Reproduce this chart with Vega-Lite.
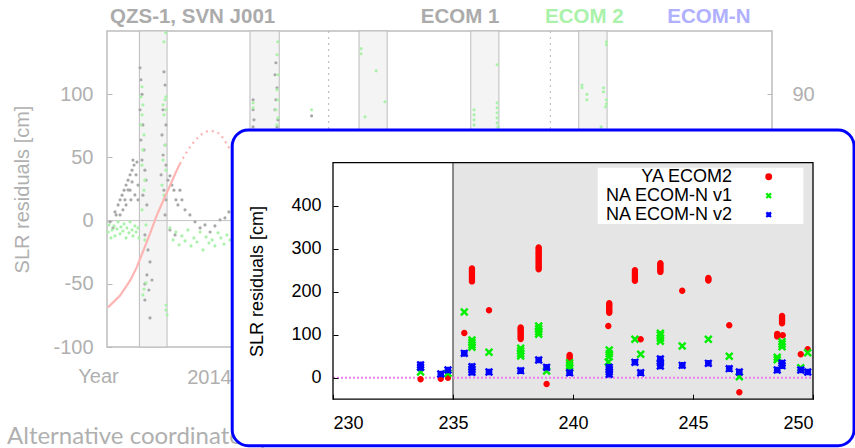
{
"$schema": "https://vega.github.io/schema/vega-lite/v6.json",
"width": 665, "height": 316,
"autosize": {"type": "none"},
"padding": {"left": 107, "top": 31, "right": 83, "bottom": 101},
"background": "white",
"config": {
  "view": {"stroke": "#bdbdbd", "strokeWidth": 1.5},
  "font": "Liberation Sans",
  "axis": {"grid": false, "domain": false, "labelFont": "Liberation Sans", "titleFont": "Liberation Sans", "titleFontWeight": "normal"}
},
"layer": [
 {
  "data": {"values": [{"b0": 2014.146, "b1": 2014.271}, {"b0": 2014.645, "b1": 2014.777}, {"b0": 2015.137, "b1": 2015.264}, {"b0": 2015.641, "b1": 2015.768}, {"b0": 2016.128, "b1": 2016.256}]},
  "mark": {"type": "rect", "fill": "#f4f4f4", "stroke": "#bcbcbc", "strokeWidth": 1},
  "encoding": {
    "x": {"field": "b0", "type": "quantitative", "scale": {"domain": [2014, 2017], "nice": false, "zero": false}, "axis": null},
    "x2": {"field": "b1"},
    "y": {"datum": -100, "type": "quantitative", "scale": {"domain": [-100, 150], "nice": false, "zero": false}, "axis": null},
    "y2": {"datum": 150}
  }
 },
 {
  "data": {"values": [{"yr": 2015.0}, {"yr": 2016.0}]},
  "mark": {"type": "rule", "stroke": "#b5b5b5", "strokeDash": [2, 4], "strokeWidth": 1},
  "encoding": {"x": {"field": "yr", "type": "quantitative", "scale": {"domain": [2014, 2017], "nice": false, "zero": false}, "axis": null}}
 },
 {
  "data": {"values": [{"z": 0}]},
  "mark": {"type": "rule", "stroke": "#c4c4c4", "strokeWidth": 1},
  "encoding": {"y": {"field": "z", "type": "quantitative", "scale": {"domain": [-100, 150], "nice": false, "zero": false}, "axis": null}}
 },
 {
  "data": {"values": [
{"t":2014.036,"v":6.9,"m":"ECOM 1"},{"t":2014.050,"v":12.4,"m":"ECOM 1"},{"t":2014.059,"v":16.4,"m":"ECOM 1"},{"t":2014.068,"v":20.1,"m":"ECOM 1"},{"t":2014.077,"v":24.1,"m":"ECOM 1"},{"t":2014.086,"v":28.1,"m":"ECOM 1"},{"t":2014.095,"v":32.0,"m":"ECOM 1"},{"t":2014.104,"v":36.2,"m":"ECOM 1"},{"t":2014.113,"v":39.9,"m":"ECOM 1"},{"t":2014.122,"v":43.9,"m":"ECOM 1"},{"t":2014.131,"v":36.2,"m":"ECOM 1"},{"t":2014.140,"v":28.1,"m":"ECOM 1"},{"t":2014.081,"v":16.4,"m":"ECOM 1"},{"t":2014.104,"v":24.1,"m":"ECOM 1"},{"t":2014.059,"v":4.5,"m":"ECOM 1"},{"t":2014.117,"v":47.9,"m":"ECOM 1"},{"t":2014.135,"v":46.3,"m":"ECOM 1"},{"t":2014.014,"v":-1.0,"m":"ECOM 1"},{"t":2014.027,"v":-5.8,"m":"ECOM 1"},{"t":2014.041,"v":4.5,"m":"ECOM 1"},
{"t":2014.095,"v":24.3,"m":"ECOM 1"},{"t":2014.113,"v":30.6,"m":"ECOM 1"},{"t":2014.086,"v":12.4,"m":"ECOM 1"},{"t":2014.072,"v":8.5,"m":"ECOM 1"},{"t":2014.126,"v":20.3,"m":"ECOM 1"},{"t":2014.140,"v":16.4,"m":"ECOM 1"},{"t":2014.108,"v":16.4,"m":"ECOM 1"},
{"t":2014.149,"v":120.9,"m":"ECOM 1"},{"t":2014.153,"v":111.4,"m":"ECOM 1"},{"t":2014.158,"v":99.9,"m":"ECOM 1"},{"t":2014.149,"v":87.7,"m":"ECOM 1"},{"t":2014.162,"v":75.7,"m":"ECOM 1"},{"t":2014.153,"v":63.8,"m":"ECOM 1"},{"t":2014.167,"v":55.9,"m":"ECOM 1"},{"t":2014.158,"v":47.9,"m":"ECOM 1"},{"t":2014.171,"v":39.9,"m":"ECOM 1"},{"t":2014.176,"v":32.0,"m":"ECOM 1"},{"t":2014.162,"v":20.1,"m":"ECOM 1"},{"t":2014.180,"v":12.4,"m":"ECOM 1"},{"t":2014.171,"v":-11.3,"m":"ECOM 1"},{"t":2014.185,"v":-23.2,"m":"ECOM 1"},{"t":2014.194,"v":-32.7,"m":"ECOM 1"},{"t":2014.180,"v":-43.0,"m":"ECOM 1"},{"t":2014.189,"v":-54.9,"m":"ECOM 1"},{"t":2014.171,"v":-62.8,"m":"ECOM 1"},{"t":2014.194,"v":-77.0,"m":"ECOM 1"},{"t":2014.171,"v":-50.1,"m":"ECOM 1"},{"t":2014.203,"v":-47.0,"m":"ECOM 1"},
{"t":2014.257,"v":117.7,"m":"ECOM 1"},{"t":2014.262,"v":107.3,"m":"ECOM 1"},{"t":2014.253,"v":87.7,"m":"ECOM 1"},{"t":2014.266,"v":75.7,"m":"ECOM 1"},{"t":2014.248,"v":67.8,"m":"ECOM 1"},{"t":2014.262,"v":59.8,"m":"ECOM 1"},{"t":2014.253,"v":51.9,"m":"ECOM 1"},{"t":2014.266,"v":43.9,"m":"ECOM 1"},{"t":2014.244,"v":36.2,"m":"ECOM 1"},{"t":2014.257,"v":24.1,"m":"ECOM 1"},{"t":2014.266,"v":16.4,"m":"ECOM 1"},{"t":2014.262,"v":4.5,"m":"ECOM 1"},
{"t":2014.275,"v":32.0,"m":"ECOM 1"},{"t":2014.284,"v":35.4,"m":"ECOM 1"},{"t":2014.293,"v":28.1,"m":"ECOM 1"},{"t":2014.302,"v":24.1,"m":"ECOM 1"},{"t":2014.311,"v":16.4,"m":"ECOM 1"},{"t":2014.320,"v":12.4,"m":"ECOM 1"},{"t":2014.329,"v":24.1,"m":"ECOM 1"},{"t":2014.338,"v":16.4,"m":"ECOM 1"},{"t":2014.352,"v":8.5,"m":"ECOM 1"},{"t":2014.284,"v":-7.4,"m":"ECOM 1"},{"t":2014.307,"v":-11.3,"m":"ECOM 1"},{"t":2014.374,"v":4.5,"m":"ECOM 1"},{"t":2014.397,"v":-1.0,"m":"ECOM 1"},{"t":2014.420,"v":-5.8,"m":"ECOM 1"},{"t":2014.442,"v":-3.4,"m":"ECOM 1"},{"t":2014.465,"v":-9.0,"m":"ECOM 1"},{"t":2014.487,"v":-4.2,"m":"ECOM 1"},{"t":2014.510,"v":0.6,"m":"ECOM 1"},{"t":2014.532,"v":2.1,"m":"ECOM 1"},{"t":2014.550,"v":6.9,"m":"ECOM 1"},
{"t":2014.659,"v":95.6,"m":"ECOM 1"},{"t":2014.659,"v":87.7,"m":"ECOM 1"},{"t":2014.663,"v":79.7,"m":"ECOM 1"},{"t":2014.659,"v":74.1,"m":"ECOM 1"},{"t":2014.762,"v":124.9,"m":"ECOM 1"},{"t":2014.758,"v":115.4,"m":"ECOM 1"},{"t":2014.767,"v":105.1,"m":"ECOM 1"},{"t":2014.762,"v":95.6,"m":"ECOM 1"},{"t":2014.758,"v":87.7,"m":"ECOM 1"},{"t":2014.771,"v":79.7,"m":"ECOM 1"},{"t":2014.767,"v":74.1,"m":"ECOM 1"},{"t":2014.923,"v":82.9,"m":"ECOM 1"},
{"t":2014.005,"v":-9.0,"m":"ECOM 2"},{"t":2014.009,"v":-3.4,"m":"ECOM 2"},{"t":2014.018,"v":-13.7,"m":"ECOM 2"},{"t":2014.023,"v":-7.4,"m":"ECOM 2"},{"t":2014.032,"v":-4.2,"m":"ECOM 2"},{"t":2014.036,"v":-12.1,"m":"ECOM 2"},{"t":2014.045,"v":-6.6,"m":"ECOM 2"},{"t":2014.050,"v":-1.0,"m":"ECOM 2"},{"t":2014.059,"v":-10.5,"m":"ECOM 2"},{"t":2014.063,"v":-5.0,"m":"ECOM 2"},{"t":2014.072,"v":-8.2,"m":"ECOM 2"},{"t":2014.077,"v":-2.6,"m":"ECOM 2"},{"t":2014.086,"v":-13.7,"m":"ECOM 2"},{"t":2014.090,"v":-5.8,"m":"ECOM 2"},{"t":2014.099,"v":-9.7,"m":"ECOM 2"},{"t":2014.104,"v":-1.0,"m":"ECOM 2"},{"t":2014.113,"v":-7.4,"m":"ECOM 2"},{"t":2014.117,"v":-12.1,"m":"ECOM 2"},{"t":2014.126,"v":-4.2,"m":"ECOM 2"},{"t":2014.131,"v":-9.0,"m":"ECOM 2"},{"t":2014.140,"v":-5.8,"m":"ECOM 2"},{"t":2014.144,"v":-13.7,"m":"ECOM 2"},
{"t":2014.158,"v":105.9,"m":"ECOM 2"},{"t":2014.153,"v":97.9,"m":"ECOM 2"},{"t":2014.162,"v":91.6,"m":"ECOM 2"},{"t":2014.158,"v":83.7,"m":"ECOM 2"},{"t":2014.153,"v":75.7,"m":"ECOM 2"},{"t":2014.167,"v":67.8,"m":"ECOM 2"},{"t":2014.162,"v":55.9,"m":"ECOM 2"},{"t":2014.158,"v":43.9,"m":"ECOM 2"},{"t":2014.171,"v":32.0,"m":"ECOM 2"},{"t":2014.167,"v":24.1,"m":"ECOM 2"},{"t":2014.158,"v":8.5,"m":"ECOM 2"},{"t":2014.176,"v":-3.4,"m":"ECOM 2"},{"t":2014.171,"v":-15.3,"m":"ECOM 2"},{"t":2014.167,"v":-54.1,"m":"ECOM 2"},{"t":2014.162,"v":-58.8,"m":"ECOM 2"},{"t":2014.176,"v":-49.3,"m":"ECOM 2"},
{"t":2014.265,"v":148.6,"m":"ECOM 2"},{"t":2014.257,"v":141.5,"m":"ECOM 2"},{"t":2014.266,"v":97.9,"m":"ECOM 2"},{"t":2014.262,"v":95.6,"m":"ECOM 2"},{"t":2014.253,"v":91.6,"m":"ECOM 2"},{"t":2014.266,"v":87.7,"m":"ECOM 2"},{"t":2014.257,"v":83.7,"m":"ECOM 2"},{"t":2014.262,"v":59.8,"m":"ECOM 2"},{"t":2014.253,"v":47.9,"m":"ECOM 2"},{"t":2014.266,"v":39.9,"m":"ECOM 2"},{"t":2014.248,"v":28.1,"m":"ECOM 2"},{"t":2014.257,"v":20.1,"m":"ECOM 2"},{"t":2014.266,"v":-66.8,"m":"ECOM 2"},{"t":2014.266,"v":-70.7,"m":"ECOM 2"},{"t":2014.271,"v":-74.7,"m":"ECOM 2"},
{"t":2014.284,"v":-5.8,"m":"ECOM 2"},{"t":2014.298,"v":-15.3,"m":"ECOM 2"},{"t":2014.311,"v":-9.0,"m":"ECOM 2"},{"t":2014.325,"v":-19.2,"m":"ECOM 2"},{"t":2014.338,"v":-12.1,"m":"ECOM 2"},{"t":2014.352,"v":-16.1,"m":"ECOM 2"},{"t":2014.365,"v":-7.4,"m":"ECOM 2"},{"t":2014.379,"v":-20.0,"m":"ECOM 2"},{"t":2014.392,"v":-13.7,"m":"ECOM 2"},{"t":2014.406,"v":-16.9,"m":"ECOM 2"},{"t":2014.420,"v":-9.0,"m":"ECOM 2"},{"t":2014.433,"v":-23.2,"m":"ECOM 2"},{"t":2014.447,"v":-12.9,"m":"ECOM 2"},{"t":2014.460,"v":-17.7,"m":"ECOM 2"},{"t":2014.474,"v":-15.3,"m":"ECOM 2"},{"t":2014.487,"v":-20.0,"m":"ECOM 2"},{"t":2014.501,"v":-9.7,"m":"ECOM 2"},{"t":2014.514,"v":-13.7,"m":"ECOM 2"},{"t":2014.528,"v":-18.5,"m":"ECOM 2"},{"t":2014.541,"v":-11.3,"m":"ECOM 2"},{"t":2014.555,"v":-15.3,"m":"ECOM 2"},
{"t":2014.659,"v":93.2,"m":"ECOM 2"},{"t":2014.659,"v":89.2,"m":"ECOM 2"},{"t":2014.771,"v":141.5,"m":"ECOM 2"},{"t":2014.767,"v":131.2,"m":"ECOM 2"},{"t":2014.771,"v":115.4,"m":"ECOM 2"},{"t":2014.767,"v":103.5,"m":"ECOM 2"},{"t":2014.771,"v":95.6,"m":"ECOM 2"},{"t":2014.762,"v":87.7,"m":"ECOM 2"},{"t":2014.771,"v":81.3,"m":"ECOM 2"},{"t":2014.767,"v":75.7,"m":"ECOM 2"},{"t":2014.923,"v":87.7,"m":"ECOM 2"},
{"t":2015.146,"v":136.0,"m":"ECOM 2"},{"t":2015.146,"v":132.0,"m":"ECOM 2"},{"t":2015.164,"v":82.1,"m":"ECOM 2"},{"t":2015.214,"v":118.5,"m":"ECOM 2"},{"t":2015.254,"v":94.0,"m":"ECOM 2"},
{"t":2015.656,"v":87.7,"m":"ECOM 2"},{"t":2015.656,"v":83.7,"m":"ECOM 2"},{"t":2015.656,"v":79.7,"m":"ECOM 2"},{"t":2015.656,"v":75.7,"m":"ECOM 2"},{"t":2015.760,"v":123.3,"m":"ECOM 2"},{"t":2015.760,"v":93.2,"m":"ECOM 2"},{"t":2015.760,"v":89.2,"m":"ECOM 2"},{"t":2015.760,"v":85.3,"m":"ECOM 2"},{"t":2015.760,"v":81.3,"m":"ECOM 2"},{"t":2015.760,"v":77.3,"m":"ECOM 2"},{"t":2015.764,"v":74.1,"m":"ECOM 2"},
{"t":2016.143,"v":107.3,"m":"ECOM 2"},{"t":2016.143,"v":105.1,"m":"ECOM 2"},{"t":2016.165,"v":99.9,"m":"ECOM 2"},{"t":2016.165,"v":95.6,"m":"ECOM 2"},{"t":2016.240,"v":105.1,"m":"ECOM 2"},{"t":2016.240,"v":101.9,"m":"ECOM 2"},{"t":2016.253,"v":141.5,"m":"ECOM 2"},{"t":2016.253,"v":139.1,"m":"ECOM 2"},{"t":2016.253,"v":95.6,"m":"ECOM 2"},{"t":2016.253,"v":92.4,"m":"ECOM 2"},{"t":2016.249,"v":90.0,"m":"ECOM 2"},{"t":2016.229,"v":74.1,"m":"ECOM 2"}
  ]},
  "mark": {"type": "circle", "size": 10, "opacity": 1},
  "encoding": {
    "x": {"field": "t", "type": "quantitative", "scale": {"domain": [2014, 2017], "nice": false, "zero": false},
          "axis": {"orient": "bottom", "values": [2014.46], "labelExpr": "'2014'", "ticks": false, "labelColor": "#b0b0b0", "labelFontSize": 20, "labelPadding": 20, "title": "Year", "titleColor": "#b0b0b0", "titleFontSize": 20, "titleX": -9, "titleY": 29, "titleBaseline": "middle", "titleAlign": "center"}},
    "y": {"field": "v", "type": "quantitative", "scale": {"domain": [-100, 150], "nice": false, "zero": false},
          "axis": {"orient": "left", "values": [-100, -50, 0, 50, 100], "labelExpr": "replace(datum.label, '\u2212', '-')", "tickSize": -5, "tickColor": "#b8b8b8", "labelColor": "#b0b0b0", "labelFontSize": 20, "labelPadding": 19, "title": "SLR residuals [cm]", "titleColor": "#b0b0b0", "titleFontSize": 20, "titleX": -85, "titleY": 158, "titleAngle": -90, "titleBaseline": "middle", "titleAlign": "center"}},
    "color": {"field": "m", "type": "nominal", "scale": {"domain": ["ECOM 1", "ECOM 2"], "range": ["#a8a8a8", "#aaf2aa"]}, "legend": null}
  }
 },
 {
  "data": {"values": [{}]},
  "mark": {"type": "text", "text": "QZS-1, SVN J001", "align": "left", "baseline": "middle", "fontSize": 20.5, "fontWeight": "bold", "color": "#ababab"},
  "encoding": {"x": {"datum": 2014.0135, "type": "quantitative", "scale": {"domain": [2014, 2017], "nice": false, "zero": false}, "axis": null}, "y": {"datum": 161.3, "type": "quantitative", "scale": {"domain": [-100, 150], "nice": false, "zero": false}, "axis": null}}
 },
 {
  "data": {"values": [{}]},
  "mark": {"type": "text", "text": "ECOM 1", "align": "right", "baseline": "middle", "fontSize": 20.5, "fontWeight": "bold", "color": "#ababab"},
  "encoding": {"x": {"datum": 2015.770, "type": "quantitative", "scale": {"domain": [2014, 2017], "nice": false, "zero": false}, "axis": null}, "y": {"datum": 161.3, "type": "quantitative", "scale": {"domain": [-100, 150], "nice": false, "zero": false}, "axis": null}}
 },
 {
  "data": {"values": [{}]},
  "mark": {"type": "text", "text": "ECOM 2", "align": "left", "baseline": "middle", "fontSize": 20.5, "fontWeight": "bold", "color": "#aaf2aa"},
  "encoding": {"x": {"datum": 2015.976, "type": "quantitative", "scale": {"domain": [2014, 2017], "nice": false, "zero": false}, "axis": null}, "y": {"datum": 161.3, "type": "quantitative", "scale": {"domain": [-100, 150], "nice": false, "zero": false}, "axis": null}}
 },
 {
  "data": {"values": [{}]},
  "mark": {"type": "text", "text": "ECOM-N", "align": "left", "baseline": "middle", "fontSize": 20.5, "fontWeight": "bold", "color": "#b0b0ff"},
  "encoding": {"x": {"datum": 2016.528, "type": "quantitative", "scale": {"domain": [2014, 2017], "nice": false, "zero": false}, "axis": null}, "y": {"datum": 161.3, "type": "quantitative", "scale": {"domain": [-100, 150], "nice": false, "zero": false}, "axis": null}}
 },
 {
  "data": {"values": [{}]},
  "mark": {"type": "text", "text": "Alternative coordinate systems", "align": "left", "baseline": "middle", "font": "Lato", "fontSize": 24, "color": "#b0b0b0"},
  "encoding": {"x": {"datum": 2013.549, "type": "quantitative", "scale": {"domain": [2014, 2017], "nice": false, "zero": false}, "axis": null}, "y": {"datum": -171.5, "type": "quantitative", "scale": {"domain": [-100, 150], "nice": false, "zero": false}, "axis": null}}
 },
 {
  "data": {"values": [{"t":2014.0045,"a":-61.8},{"t":2014.059,"a":-53.4},{"t":2014.104,"a":-42.8},{"t":2014.134,"a":-33.3},{"t":2014.164,"a":-21.4},{"t":2014.194,"a":-9.3},{"t":2014.224,"a":3.6},{"t":2014.254,"a":14.3},{"t":2014.284,"a":24.9},{"t":2014.314,"a":35.6},{"t":2014.329,"a":40.4}]},
  "mark": {"type": "line", "color": "#ffb4b4", "strokeWidth": 2.2},
  "encoding": {
    "x": {"field": "t", "type": "quantitative", "scale": {"domain": [2014, 2017], "nice": false, "zero": false}, "axis": null},
    "y": {"field": "a", "type": "quantitative", "scale": {"domain": [-90, 135], "nice": false, "zero": false},
          "axis": {"orient": "right", "values": [-90, 0, 90], "tickSize": -5, "tickColor": "#b8b8b8", "labelColor": "#b0b0b0", "labelFontSize": 20, "labelPadding": 25, "title": null}}
  }
 },
 {
  "data": {"values": [{"t":2014.329,"a":40.4},{"t":2014.352,"a":47.0},{"t":2014.374,"a":52.2},{"t":2014.397,"a":57.0},{"t":2014.420,"a":60.6},{"t":2014.442,"a":63.1},{"t":2014.465,"a":64.1},{"t":2014.487,"a":63.4},{"t":2014.510,"a":61.8},{"t":2014.540,"a":54.6},{"t":2014.563,"a":48.7}]},
  "mark": {"type": "line", "color": "#ffb4b4", "strokeWidth": 2.2, "strokeDash": [2, 4]},
  "encoding": {
    "x": {"field": "t", "type": "quantitative", "scale": {"domain": [2014, 2017], "nice": false, "zero": false}, "axis": null},
    "y": {"field": "a", "type": "quantitative", "scale": {"domain": [-90, 135], "nice": false, "zero": false}, "axis": null}
  }
 },
 {
  "data": {"values": [{}]},
  "mark": {"type": "rect", "fill": "white", "stroke": "#0000ff", "strokeWidth": 3, "cornerRadius": 16},
  "encoding": {
    "x": {"datum": 225.8, "type": "quantitative", "scale": {"domain": [230, 250], "range": [226, 706], "nice": false, "zero": false}, "axis": null},
    "x2": {"datum": 251.71},
    "y": {"datum": 576, "type": "quantitative", "scale": {"domain": [-50, 500], "range": [368.2, 131.7], "nice": false, "zero": false}, "axis": null},
    "y2": {"datum": -158.1}
  }
 },
 {
  "data": {"values": [{}]},
  "mark": {"type": "rect", "fill": "#e5e5e5"},
  "encoding": {
    "x": {"datum": 235, "type": "quantitative", "scale": {"domain": [230, 250], "range": [226, 706], "nice": false, "zero": false}, "axis": null},
    "x2": {"datum": 250},
    "y": {"datum": -50, "type": "quantitative", "scale": {"domain": [-50, 500], "range": [368.2, 131.7], "nice": false, "zero": false}, "axis": null},
    "y2": {"datum": 500}
  }
 },
 {
  "data": {"values": [{}]},
  "mark": {"type": "rule", "stroke": "#666666", "strokeWidth": 1.5},
  "encoding": {
    "x": {"datum": 235, "type": "quantitative", "scale": {"domain": [230, 250], "range": [226, 706], "nice": false, "zero": false}, "axis": null},
    "y": {"datum": -50, "type": "quantitative", "scale": {"domain": [-50, 500], "range": [368.2, 131.7], "nice": false, "zero": false}, "axis": null},
    "y2": {"datum": 500}
  }
 },
 {
  "data": {"values": [{}]},
  "mark": {"type": "rule", "stroke": "#f07cf0", "strokeWidth": 2, "strokeDash": [2, 2]},
  "encoding": {
    "x": {"datum": 230, "type": "quantitative", "scale": {"domain": [230, 250], "range": [226, 706], "nice": false, "zero": false}, "axis": null},
    "x2": {"datum": 250},
    "y": {"datum": 0, "type": "quantitative", "scale": {"domain": [-50, 500], "range": [368.2, 131.7], "nice": false, "zero": false}, "axis": null}
  }
 },
 {
  "data": {"values": [{}]},
  "mark": {"type": "rect", "fill": "white"},
  "encoding": {
    "x": {"datum": 241.03, "type": "quantitative", "scale": {"domain": [230, 250], "range": [226, 706], "nice": false, "zero": false}, "axis": null},
    "x2": {"datum": 249.6},
    "y": {"datum": 357.4, "type": "quantitative", "scale": {"domain": [-50, 500], "range": [368.2, 131.7], "nice": false, "zero": false}, "axis": null},
    "y2": {"datum": 488.4}
  }
 },
 {
  "data": {"values": [{}]},
  "mark": {"type": "rect", "fill": "transparent", "stroke": "black", "strokeWidth": 1.3},
  "encoding": {
    "x": {"datum": 230, "type": "quantitative", "scale": {"domain": [230, 250], "range": [226, 706], "nice": false, "zero": false}, "axis": null},
    "x2": {"datum": 250},
    "y": {"datum": -50, "type": "quantitative", "scale": {"domain": [-50, 500], "range": [368.2, 131.7], "nice": false, "zero": false}, "axis": null},
    "y2": {"datum": 500}
  }
 },
 {
  "data": {"values": [
{"d":233.65,"r":-3.7,"s":"YA ECOM2"},{"d":234.49,"r":-2.3,"s":"YA ECOM2"},{"d":234.79,"r":0,"s":"YA ECOM2"},{"d":235.47,"r":104,"s":"YA ECOM2"},{"d":235.79,"r":224,"s":"YA ECOM2"},{"d":235.79,"r":228,"s":"YA ECOM2"},{"d":235.79,"r":232,"s":"YA ECOM2"},{"d":235.79,"r":236,"s":"YA ECOM2"},{"d":235.79,"r":240,"s":"YA ECOM2"},{"d":235.79,"r":244,"s":"YA ECOM2"},{"d":235.79,"r":247,"s":"YA ECOM2"},{"d":235.79,"r":251,"s":"YA ECOM2"},{"d":235.79,"r":254,"s":"YA ECOM2"},{"d":236.5,"r":156.7,"s":"YA ECOM2"},{"d":237.82,"r":90,"s":"YA ECOM2"},{"d":237.82,"r":94,"s":"YA ECOM2"},{"d":237.82,"r":98,"s":"YA ECOM2"},{"d":237.82,"r":102,"s":"YA ECOM2"},{"d":237.82,"r":106,"s":"YA ECOM2"},{"d":237.82,"r":110,"s":"YA ECOM2"},{"d":237.82,"r":113,"s":"YA ECOM2"},{"d":237.82,"r":117,"s":"YA ECOM2"},{"d":238.57,"r":252,"s":"YA ECOM2"},{"d":238.57,"r":256,"s":"YA ECOM2"},{"d":238.57,"r":260,"s":"YA ECOM2"},{"d":238.57,"r":264,"s":"YA ECOM2"},{"d":238.57,"r":268,"s":"YA ECOM2"},{"d":238.57,"r":272,"s":"YA ECOM2"},{"d":238.57,"r":276,"s":"YA ECOM2"},{"d":238.57,"r":280,"s":"YA ECOM2"},{"d":238.57,"r":284,"s":"YA ECOM2"},{"d":238.57,"r":288,"s":"YA ECOM2"},{"d":238.57,"r":292,"s":"YA ECOM2"},{"d":238.57,"r":296,"s":"YA ECOM2"},{"d":238.57,"r":300,"s":"YA ECOM2"},{"d":238.57,"r":303,"s":"YA ECOM2"},{"d":238.9,"r":-14.7,"s":"YA ECOM2"},{"d":239.86,"r":37,"s":"YA ECOM2"},{"d":239.86,"r":41,"s":"YA ECOM2"},{"d":239.86,"r":45,"s":"YA ECOM2"},{"d":239.86,"r":49,"s":"YA ECOM2"},{"d":239.86,"r":52.8,"s":"YA ECOM2"},{"d":241.51,"r":151,"s":"YA ECOM2"},{"d":241.51,"r":154.5,"s":"YA ECOM2"},{"d":241.51,"r":158,"s":"YA ECOM2"},{"d":241.51,"r":162,"s":"YA ECOM2"},{"d":241.51,"r":166,"s":"YA ECOM2"},{"d":241.51,"r":169.5,"s":"YA ECOM2"},{"d":241.51,"r":173,"s":"YA ECOM2"},{"d":241.47,"r":120.2,"s":"YA ECOM2"},{"d":242.58,"r":225.6,"s":"YA ECOM2"},{"d":242.58,"r":229,"s":"YA ECOM2"},{"d":242.58,"r":233,"s":"YA ECOM2"},{"d":242.58,"r":237,"s":"YA ECOM2"},{"d":242.58,"r":241,"s":"YA ECOM2"},{"d":242.58,"r":245,"s":"YA ECOM2"},{"d":242.58,"r":250,"s":"YA ECOM2"},{"d":242.82,"r":89.3,"s":"YA ECOM2"},{"d":243.64,"r":246,"s":"YA ECOM2"},{"d":243.64,"r":249.5,"s":"YA ECOM2"},{"d":243.64,"r":253,"s":"YA ECOM2"},{"d":243.64,"r":256.5,"s":"YA ECOM2"},{"d":243.64,"r":260,"s":"YA ECOM2"},{"d":243.64,"r":263,"s":"YA ECOM2"},{"d":243.64,"r":266,"s":"YA ECOM2"},{"d":244.55,"r":202.3,"s":"YA ECOM2"},{"d":245.64,"r":226,"s":"YA ECOM2"},{"d":245.64,"r":229,"s":"YA ECOM2"},{"d":245.64,"r":232,"s":"YA ECOM2"},{"d":246.51,"r":121.9,"s":"YA ECOM2"},{"d":246.93,"r":-34,"s":"YA ECOM2"},{"d":248.71,"r":126.5,"s":"YA ECOM2"},{"d":248.71,"r":130,"s":"YA ECOM2"},{"d":248.71,"r":133,"s":"YA ECOM2"},{"d":248.71,"r":136.5,"s":"YA ECOM2"},{"d":248.71,"r":140,"s":"YA ECOM2"},{"d":248.71,"r":143.5,"s":"YA ECOM2"},{"d":248.51,"r":96,"s":"YA ECOM2"},{"d":248.51,"r":99,"s":"YA ECOM2"},{"d":248.51,"r":102,"s":"YA ECOM2"},{"d":248.74,"r":98.6,"s":"YA ECOM2"},{"d":249.49,"r":54.4,"s":"YA ECOM2"},{"d":249.78,"r":66,"s":"YA ECOM2"},
{"d":233.65,"r":13.3,"s":"NA ECOM-N v1"},{"d":234.79,"r":10.2,"s":"NA ECOM-N v1"},{"d":235.47,"r":152.8,"s":"NA ECOM-N v1"},{"d":235.79,"r":70.7,"s":"NA ECOM-N v1"},{"d":235.79,"r":76,"s":"NA ECOM-N v1"},{"d":235.79,"r":82,"s":"NA ECOM-N v1"},{"d":235.79,"r":87.7,"s":"NA ECOM-N v1"},{"d":236.5,"r":59,"s":"NA ECOM-N v1"},{"d":237.82,"r":50.5,"s":"NA ECOM-N v1"},{"d":237.82,"r":56,"s":"NA ECOM-N v1"},{"d":237.82,"r":62,"s":"NA ECOM-N v1"},{"d":237.82,"r":68.4,"s":"NA ECOM-N v1"},{"d":238.57,"r":100.9,"s":"NA ECOM-N v1"},{"d":238.57,"r":107,"s":"NA ECOM-N v1"},{"d":238.57,"r":114,"s":"NA ECOM-N v1"},{"d":238.57,"r":120.2,"s":"NA ECOM-N v1"},{"d":238.9,"r":15.6,"s":"NA ECOM-N v1"},{"d":239.86,"r":21.9,"s":"NA ECOM-N v1"},{"d":239.86,"r":28,"s":"NA ECOM-N v1"},{"d":239.86,"r":34.9,"s":"NA ECOM-N v1"},{"d":241.51,"r":48.8,"s":"NA ECOM-N v1"},{"d":241.51,"r":56,"s":"NA ECOM-N v1"},{"d":241.51,"r":64.4,"s":"NA ECOM-N v1"},{"d":241.47,"r":36.5,"s":"NA ECOM-N v1"},{"d":242.58,"r":89.3,"s":"NA ECOM-N v1"},{"d":242.82,"r":54.4,"s":"NA ECOM-N v1"},{"d":243.64,"r":84.7,"s":"NA ECOM-N v1"},{"d":243.64,"r":92,"s":"NA ECOM-N v1"},{"d":243.64,"r":99,"s":"NA ECOM-N v1"},{"d":243.64,"r":103.3,"s":"NA ECOM-N v1"},{"d":244.55,"r":73.7,"s":"NA ECOM-N v1"},{"d":245.64,"r":89.3,"s":"NA ECOM-N v1"},{"d":246.51,"r":49.8,"s":"NA ECOM-N v1"},{"d":246.93,"r":2.3,"s":"NA ECOM-N v1"},{"d":248.71,"r":72.1,"s":"NA ECOM-N v1"},{"d":248.71,"r":78,"s":"NA ECOM-N v1"},{"d":248.71,"r":83.7,"s":"NA ECOM-N v1"},{"d":248.51,"r":42,"s":"NA ECOM-N v1"},{"d":248.51,"r":47.4,"s":"NA ECOM-N v1"},{"d":249.49,"r":23.3,"s":"NA ECOM-N v1"},{"d":249.78,"r":58.1,"s":"NA ECOM-N v1"},
{"d":233.65,"r":24,"s":"NA ECOM-N v2"},{"d":233.65,"r":30,"s":"NA ECOM-N v2"},{"d":234.49,"r":8.6,"s":"NA ECOM-N v2"},{"d":234.79,"r":17.9,"s":"NA ECOM-N v2"},{"d":235.47,"r":56.7,"s":"NA ECOM-N v2"},{"d":235.79,"r":12.6,"s":"NA ECOM-N v2"},{"d":235.79,"r":19,"s":"NA ECOM-N v2"},{"d":235.79,"r":25.6,"s":"NA ECOM-N v2"},{"d":236.5,"r":13.3,"s":"NA ECOM-N v2"},{"d":237.82,"r":16.3,"s":"NA ECOM-N v2"},{"d":238.57,"r":41.2,"s":"NA ECOM-N v2"},{"d":238.9,"r":24.2,"s":"NA ECOM-N v2"},{"d":239.86,"r":11.6,"s":"NA ECOM-N v2"},{"d":241.51,"r":7.9,"s":"NA ECOM-N v2"},{"d":241.51,"r":14,"s":"NA ECOM-N v2"},{"d":241.51,"r":19,"s":"NA ECOM-N v2"},{"d":241.51,"r":24.2,"s":"NA ECOM-N v2"},{"d":242.58,"r":35.8,"s":"NA ECOM-N v2"},{"d":242.82,"r":11.6,"s":"NA ECOM-N v2"},{"d":243.64,"r":27.2,"s":"NA ECOM-N v2"},{"d":243.64,"r":35,"s":"NA ECOM-N v2"},{"d":243.64,"r":43.5,"s":"NA ECOM-N v2"},{"d":244.55,"r":28.8,"s":"NA ECOM-N v2"},{"d":245.64,"r":33.5,"s":"NA ECOM-N v2"},{"d":246.51,"r":21,"s":"NA ECOM-N v2"},{"d":246.93,"r":13.3,"s":"NA ECOM-N v2"},{"d":248.71,"r":28,"s":"NA ECOM-N v2"},{"d":248.71,"r":34,"s":"NA ECOM-N v2"},{"d":248.51,"r":17.9,"s":"NA ECOM-N v2"},{"d":249.49,"r":17.9,"s":"NA ECOM-N v2"},{"d":249.78,"r":13.3,"s":"NA ECOM-N v2"}
  ]},
  "mark": {"type": "point", "filled": true, "strokeWidth": 2.4, "opacity": 1},
  "encoding": {
    "x": {"field": "d", "type": "quantitative", "scale": {"domain": [230, 250], "range": [226, 706], "nice": false, "zero": false},
          "axis": {"orient": "bottom", "offset": 52.2, "zindex": 2, "values": [230, 235, 240, 245, 250], "tickSize": -5, "tickColor": "black", "labelColor": "black", "labelFontSize": 18, "labelPadding": 20, "title": null}},
    "y": {"field": "r", "type": "quantitative", "scale": {"domain": [-50, 500], "range": [368.2, 131.7], "nice": false, "zero": false},
          "axis": {"orient": "left", "offset": -226, "zindex": 2, "values": [0, 100, 200, 300, 400], "tickSize": -5, "tickColor": "black", "labelColor": "black", "labelFontSize": 18, "labelPadding": 17, "title": "SLR residuals [cm]", "titleColor": "black", "titleFontSize": 18, "titleX": -76, "titleY": 250, "titleAngle": -90, "titleBaseline": "middle", "titleAlign": "center"}},
    "fill": {"field": "s", "type": "nominal", "scale": {"domain": ["YA ECOM2", "NA ECOM-N v1", "NA ECOM-N v2"], "range": ["#ff0000", "#00ee00", "#0000ff"]},
             "legend": {"title": null, "orient": "none", "zindex": 3, "legendX": 652.7, "legendY": 136.7, "labelAlign": "right", "labelOffset": -45.7, "labelFontSize": 18, "labelColor": "black", "labelFont": "Liberation Sans", "rowPadding": 1, "padding": 0, "symbolSize": 22, "symbolStrokeWidth": 2.2, "labelLimit": 400}},
    "stroke": {"field": "s", "type": "nominal", "scale": {"domain": ["YA ECOM2", "NA ECOM-N v1", "NA ECOM-N v2"], "range": ["#ff0000", "#00ee00", "#0000ff"]},
             "legend": {"title": null, "orient": "none", "zindex": 3, "legendX": 652.7, "legendY": 136.7, "labelAlign": "right", "labelOffset": -45.7, "labelFontSize": 18, "labelColor": "black", "labelFont": "Liberation Sans", "rowPadding": 1, "padding": 0, "symbolSize": 22, "symbolStrokeWidth": 2.2, "labelLimit": 400}},
    "shape": {"field": "s", "type": "nominal", "scale": {"domain": ["YA ECOM2", "NA ECOM-N v1", "NA ECOM-N v2"], "range": ["circle", "M-1,-1L1,1M-1,1L1,-1", "M-1,-1L1,1M-1,1L1,-1M-1,0L1,0M0,-1L0,1"]},
             "legend": {"title": null, "orient": "none", "zindex": 3, "legendX": 652.7, "legendY": 136.7, "labelAlign": "right", "labelOffset": -45.7, "labelFontSize": 18, "labelColor": "black", "labelFont": "Liberation Sans", "rowPadding": 1, "padding": 0, "symbolSize": 22, "symbolStrokeWidth": 2.2, "labelLimit": 400}},
    "size": {"field": "s", "type": "nominal", "scale": {"type": "ordinal", "domain": ["NA ECOM-N v2", "NA ECOM-N v1", "YA ECOM2"], "range": [44, 46, 16]}, "legend": null}
  }
 }
],
"resolve": {"scale": {"x": "independent", "y": "independent"}, "axis": {"x": "independent", "y": "independent"}}
}
